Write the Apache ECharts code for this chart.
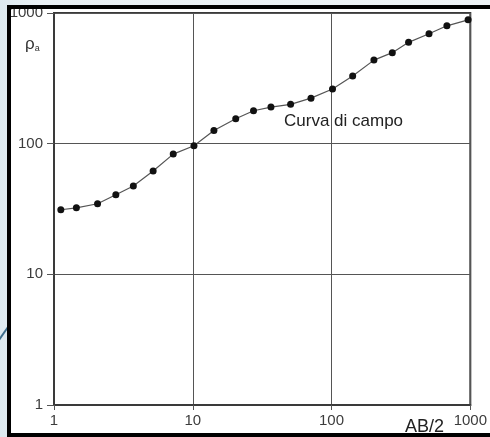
<!DOCTYPE html>
<html>
<head>
<meta charset="utf-8">
<script src="https://cdn.jsdelivr.net/npm/echarts@6/dist/echarts.min.js"></script>
<style>
  html, body { margin: 0; padding: 0; }
  body { width: 490px; height: 437px; overflow: hidden; position: relative;
         background: linear-gradient(90deg, #dde9f0 0px, #e9f0f4 40px, #eef3f6 490px); }
  #paper { position: absolute; left: 9px; top: 7px; width: 500px; height: 428px; background: #ffffff; }
  #chart { position: absolute; left: 0; top: 0; width: 490px; height: 437px; }
  #frame { position: absolute; left: 7px; top: 5px; width: 500px; height: 424px;
           border: 4px solid #000; pointer-events: none; }
</style>
</head>
<body>
<div id="paper"></div>
<div id="chart"></div>
<div id="frame"></div>
<script>
// AB/2 (x) and apparent resistivity rho_a (y)
var abHalf = [1.12, 1.45, 2.06, 2.79, 3.73, 5.18, 7.23, 10.2, 14.2, 20.4, 27.4, 36.6, 50.7, 71.1, 101.6, 142, 202, 274, 359, 504, 678, 964];
var rhoA   = [31.2, 32.3, 34.7, 40.6, 47.4, 61.7, 83.2, 96.4, 126, 155, 178.6, 190.6, 200, 223, 262, 329, 436, 497, 596, 694, 798, 887];
var axisTicks = [1, 10, 100, 1000];

var points = abHalf.map(function (x, i) { return [x, rhoA[i]]; });

var chart = echarts.init(document.getElementById('chart'), null, { renderer: 'canvas' });
var font = 'Liberation Sans, Arial, sans-serif';
function plain(v) { return String(Math.round(v)); }

chart.setOption({
  backgroundColor: 'transparent',
  animation: false,
  grid: { left: 54, right: 16, top: 13, bottom: 32, show: true, borderColor: '#3a3a3a', borderWidth: 2, backgroundColor: 'transparent' },
  xAxis: {
    type: 'log', logBase: 10, min: axisTicks[0], max: axisTicks[axisTicks.length - 1],
    axisLine: { show: true, lineStyle: { color: '#3a3a3a', width: 2 } },
    axisTick: { show: true, length: 5, inside: false, lineStyle: { color: '#555', width: 1 } },
    splitLine: { show: true, lineStyle: { color: '#555', width: 1 } },
    minorTick: { show: false }, minorSplitLine: { show: false },
    axisLabel: { fontSize: 15, color: '#3c3c3c', fontFamily: font, margin: 8, showMinLabel: true, showMaxLabel: true, formatter: plain }
  },
  yAxis: {
    type: 'log', logBase: 10, min: axisTicks[0], max: axisTicks[axisTicks.length - 1],
    axisLine: { show: true, lineStyle: { color: '#3a3a3a', width: 2 } },
    axisTick: { show: true, length: 7, inside: false, lineStyle: { color: '#555', width: 1 } },
    splitLine: { show: true, lineStyle: { color: '#555', width: 1 } },
    minorTick: { show: false }, minorSplitLine: { show: false },
    axisLabel: { fontSize: 15, color: '#3c3c3c', fontFamily: font, margin: 11, showMinLabel: true, showMaxLabel: true, formatter: plain }
  },
  series: [{
    type: 'line',
    data: points,
    symbol: 'circle',
    symbolSize: 7,
    itemStyle: { color: '#111' },
    lineStyle: { color: '#555', width: 1.2 },
    z: 5
  }],
  graphic: [
    { type: 'line', shape: { x1: -1, y1: 340, x2: 8, y2: 327 }, style: { stroke: '#3d6d8c', lineWidth: 2 } },
    { type: 'text', left: 284, top: 113, style: { text: 'Curva di campo', font: '17px ' + font, fill: '#222' } },
    { type: 'text', left: 405, top: 418, style: { text: 'AB/2', font: '18px ' + font, fill: '#222' } },
    { type: 'text', left: 25, top: 36, style: {
        text: '{r|ρ}{s|a}',
        rich: {
          r: { fontSize: 17, fontFamily: font, fill: '#333', color: '#333' },
          s: { fontSize: 9, fontFamily: font, fill: '#333', color: '#333', padding: [8, 0, 0, 0] }
        }
      } }
  ]
});
</script>
</body>
</html>
